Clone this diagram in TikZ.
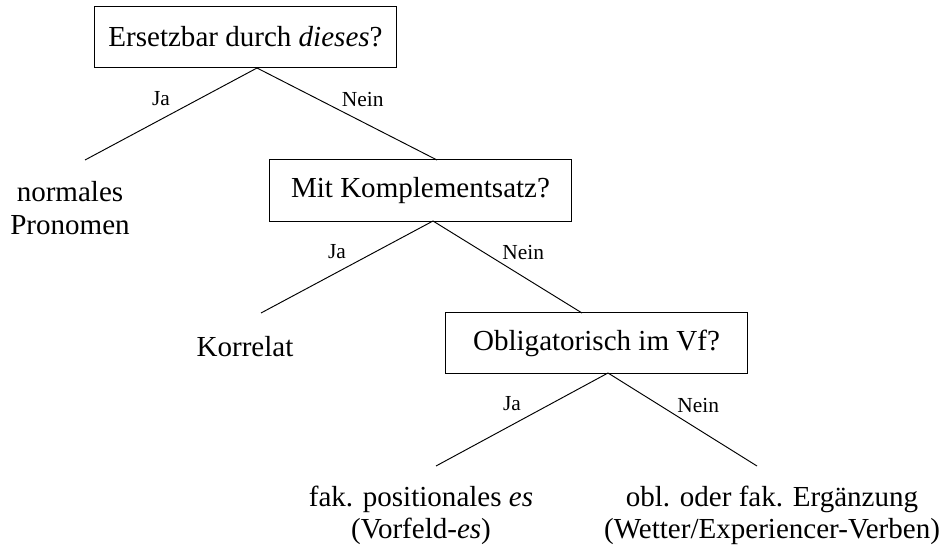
\documentclass[tikz,border=0pt]{standalone}
\usepackage{fontspec}
\setmainfont{Liberation Serif}
\usepackage{tikz}
\usetikzlibrary{positioning}

\begin{document}
\begin{tikzpicture}[x=0.42pt, y=-0.42pt,
  box/.style={draw, minimum width=127pt, minimum height=26pt, inner sep=3pt,
    font=\fontsize{12.2}{13.5}\selectfont},
  leaf/.style={align=center, inner sep=0pt, font=\fontsize{12.2}{13.5}\selectfont},
  ja/.style={font=\fontsize{9}{10}\selectfont, inner sep=0pt, midway, xshift=-4.2pt, yshift=6.6pt},
  nein/.style={font=\fontsize{9}{10}\selectfont, inner sep=0pt, midway, xshift=6.6pt, yshift=5.9pt}]
\useasboundingbox (0,0) rectangle (949,554);
% questions
\node[box] (q1) at (245.5,37) {Ersetzbar durch \textit{dieses}?};
\node[box] (q2) at (420.5,190.5) {Mit Komplementsatz?};
\node[box] (q3) at (596.5,343) {Obligatorisch im Vf?};
% answers
\node[leaf] (l1) at (70,208) {normales\\Pronomen};
\node[leaf] (l2) at (245,347) {Korrelat};
\node[leaf] (l3) at (421,515) {fak. positionales \textit{es}\\(Vorfeld-\textit{es})};
\node[leaf] (l4) at (772,515) {obl. oder fak. Ergänzung\\(Wetter/Experiencer-Verben)};
% branch points
\coordinate (q1b) at (257,68);
\coordinate (q2b) at (433,221);
\coordinate (q3b) at (608,373);
\coordinate (l1t) at (85,160);
\coordinate (q2t) at (437,160);
\coordinate (l2t) at (261,313);
\coordinate (q3t) at (582,313);
\coordinate (l3t) at (436,466);
\coordinate (l4t) at (757,466);
% branches
\draw (q1b) -- node[ja] {Ja} (l1t);
\draw (q1b) -- node[nein] {Nein} (q2t);
\draw (q2b) -- node[ja] {Ja} (l2t);
\draw (q2b) -- node[nein] {Nein} (q3t);
\draw (q3b) -- node[ja] {Ja} (l3t);
\draw (q3b) -- node[nein] {Nein} (l4t);
\end{tikzpicture}
\end{document}
